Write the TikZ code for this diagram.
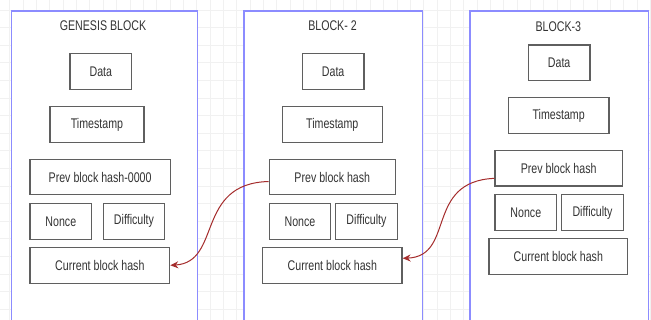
\documentclass[tikz,border=0pt]{standalone}
\usepackage{fontspec}
\setmainfont{Liberation Sans}[FakeStretch=0.76]
\usetikzlibrary{arrows.meta}
\definecolor{gridc}{RGB}{241,241,241}
\definecolor{outerc}{RGB}{140,140,255}
\definecolor{boxc}{RGB}{95,95,95}
\definecolor{txtc}{RGB}{51,51,51}
\definecolor{arrc}{RGB}{165,45,45}
\begin{document}
\begin{tikzpicture}[x=1pt,y=-1pt,
  gridline/.style={draw=gridc,line width=0.8pt},
  outerbox/.style={draw=outerc,line width=1.6pt,fill=white,anchor=north west,minimum height=340pt,inner sep=0pt},
  titletext/.style={text=txtc,font=\fontsize{14}{16}\selectfont,inner sep=0pt},
  fieldbox/.style={draw=boxc,line width=1.2pt,fill=white,text=txtc,font=\fontsize{14}{16}\selectfont,inner sep=0pt,minimum height=35.5pt},
  linkarrow/.style={draw=arrc,line width=1pt,-{Stealth[length=8pt,width=7pt]}}]
\useasboundingbox (0,0) rectangle (651,320);
\fill[white] (0,0) rectangle (651,320);
\foreach \i in {0,...,48} \draw[gridline] ({9.75+13.35*\i},0) -- ++(0,320);
\foreach \j in {0,...,17} \draw[gridline] (0,{10+17.6*\j}) -- ++(651,0);
% outer blocks
\node[outerbox,minimum width=186pt] (g) at (10.7,10) {};
\node[outerbox,minimum width=178.4pt] (b2) at (243.3,10) {};
\node[outerbox,minimum width=178.4pt] (b3) at (469.3,10) {};
% titles
\node[titletext] (t1) at (103,26) {GENESIS BLOCK};
\node[titletext] (t2) at (332.5,26) {BLOCK- 2};
\node[titletext] (t3) at (558.3,26.7) {BLOCK-3};
% genesis
\node[fieldbox,minimum width=61.7pt] (d1) at (100.85,71.65) {Data};
\node[fieldbox,minimum width=94pt] (ts1) at (97,124.5) {Timestamp};
\node[fieldbox,minimum width=140.3pt] (p1) at (100.15,177.15) {Prev block hash-0000};
\node[fieldbox,minimum width=61.7pt,minimum height=36pt] (n1) at (60.85,221.3) {Nonce};
\node[fieldbox,minimum width=61.4pt,minimum height=36pt] (df1) at (134,221.3) {Difficulty};
\node[fieldbox,minimum width=139.7pt,minimum height=36pt] (c1) at (99.85,265.3) {Current block hash};
% block 2
\node[fieldbox,minimum width=61.7pt] (d2) at (333.15,71.6) {Data};
\node[fieldbox,minimum width=100pt] (ts2) at (332.3,124.5) {Timestamp};
\node[fieldbox,minimum width=126pt] (p2) at (332.3,177) {Prev block hash};
\node[fieldbox,minimum width=61.4pt,minimum height=36pt] (n2) at (300,221.3) {Nonce};
\node[fieldbox,minimum width=61.6pt,minimum height=36pt] (df2) at (366.5,221.3) {Difficulty};
\node[fieldbox,minimum width=139.3pt,minimum height=36pt] (c2) at (332.35,265.3) {Current block hash};
% block 3
\node[fieldbox,minimum width=61.7pt] (d3) at (559.15,62.85) {Data};
\node[fieldbox,minimum width=100.7pt] (ts3) at (558.65,115.5) {Timestamp};
\node[fieldbox,minimum width=127.3pt] (p3) at (558.65,168.35) {Prev block hash};
\node[fieldbox,minimum width=61.7pt] (n3) at (525.85,212.5) {Nonce};
\node[fieldbox,minimum width=61.6pt] (df3) at (592.5,212.5) {Difficulty};
\node[fieldbox,minimum width=138.7pt] (c3) at (558.35,256.5) {Current block hash};
% links
\draw[linkarrow] ([yshift=-4.5pt]p2.west) .. controls +(-74,2) and +(52,-3) .. (c1.east);
\draw[linkarrow] ([yshift=-10pt]p3.west) .. controls +(-70,3) and +(53,-2) .. ([yshift=7pt]c2.east);
\end{tikzpicture}
\end{document}
